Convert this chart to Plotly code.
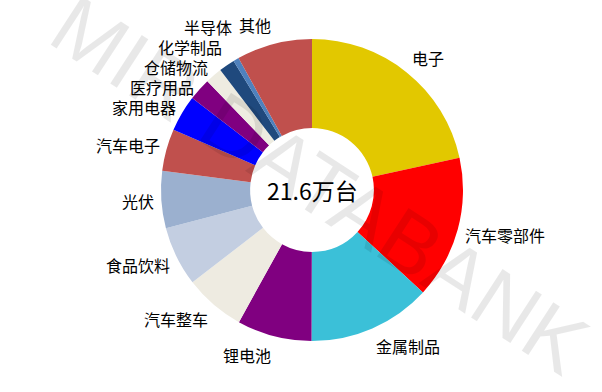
import math
import plotly.graph_objects as go

# Share of installed units by downstream industry (%), total 21.6万台
labels = ["电子", "汽车零部件", "金属制品", "锂电池", "汽车整车", "食品饮料", "光伏",
          "汽车电子", "家用电器", "医疗用品", "仓储物流", "化学制品", "半导体", "其他"]
values = [21.6, 15.3, 13.2, 8.0, 6.5, 6.4, 6.1, 4.5, 3.9, 2.4, 1.8, 1.7, 0.6, 8.1]
colors = ["#E2C800", "#FF0000", "#3BC0D8", "#800080", "#EEEBE1", "#C3CEE1", "#9BB0CF",
          "#C0504D", "#0000FF", "#800080", "#EEECE1", "#1F497D", "#4F81BD", "#C0504D"]
total_text = "21.6万台"

W, H = 602, 392
cx, cy, R = 312, 190, 151
LABEL_RX, LABEL_RY = 156, 170   # anchor radii of the outer labels
FS = 16                         # label font size
GAP = 20                        # minimum vertical spacing of neighbouring labels

fig = go.Figure(go.Pie(
    labels=labels,
    values=values,
    hole=0.41,
    sort=False,
    direction="clockwise",
    rotation=0,
    marker=dict(colors=colors, line=dict(width=0)),
    textinfo="none",
    hoverinfo="label+percent",
    showlegend=False,
    domain=dict(x=[(cx - R) / W, (cx + R) / W], y=[1 - (cy + R) / H, 1 - (cy - R) / H]),
))

# outer labels placed at each slice's mid-angle, aligned away from the pie
total = sum(values)
items = []
acc = 0.0
for lab, v in zip(labels, values):
    mid = (acc + v / 2) / total * 2 * math.pi
    acc += v
    x = cx + LABEL_RX * math.sin(mid)
    y = cy - LABEL_RY * math.cos(mid)
    right = x >= cx
    w = FS * len(lab)
    x0, x1 = (x, x + w) if right else (x - w, x)
    items.append(dict(text=lab, x=x, y=y, right=right, x0=x0, x1=x1))

# push apart labels that would overlap
for _ in range(400):
    moved = False
    for i in range(len(items)):
        for j in range(i + 1, len(items)):
            a, b = items[i], items[j]
            if a["right"] != b["right"]:
                continue
            if a["x1"] <= b["x0"] or b["x1"] <= a["x0"]:
                continue
            d = b["y"] - a["y"]
            if abs(d) < GAP:
                push = (GAP - abs(d)) / 2 + 0.01
                s = 1 if d >= 0 else -1
                a["y"] -= s * push
                b["y"] += s * push
                moved = True
    if not moved:
        break

for it in items:
    fig.add_annotation(
        text=it["text"], x=it["x"] / W, y=1 - it["y"] / H, xref="paper", yref="paper",
        xanchor="left" if it["right"] else "right", yanchor="middle",
        showarrow=False, font=dict(family="Noto Sans CJK SC", size=FS, color="#000000"),
    )

fig.add_annotation(
    text=total_text, x=cx / W, y=1 - cy / H, xref="paper", yref="paper",
    showarrow=False, font=dict(family="Noto Sans CJK SC", size=23, color="#000000"),
)

# diagonal watermark
fig.add_annotation(
    text="MIR DATABANK", x=320 / W, y=1 - 185 / H, xref="paper", yref="paper",
    showarrow=False, textangle=33,
    font=dict(family="Liberation Sans", size=84, color="rgba(0,0,0,0.09)"),
)

fig.update_layout(
    width=W, height=H,
    margin=dict(l=0, r=0, t=0, b=0),
    paper_bgcolor="#FFFFFF",
    plot_bgcolor="#FFFFFF",
)

fig.write_html("out.html")
